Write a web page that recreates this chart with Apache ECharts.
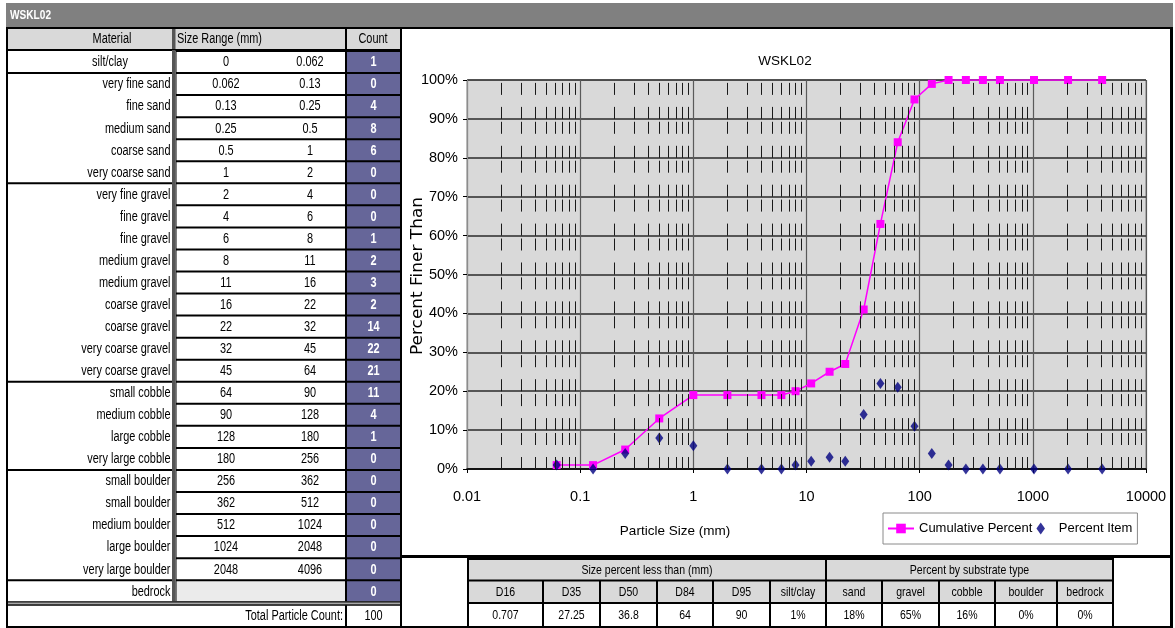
<!DOCTYPE html>
<html><head><meta charset="utf-8">
<script src="https://cdn.jsdelivr.net/npm/echarts@6/dist/echarts.min.js"></script>
<style>html,body{margin:0;padding:0;background:#fff;} #c{width:1175px;height:628px;}</style>
</head><body><div id="c"></div>
<script>
// ---------- data ----------
const sheetTitle = 'WSKL02';
const materials = ['silt/clay','very fine sand','fine sand','medium sand','coarse sand','very coarse sand',
  'very fine gravel','fine gravel','fine gravel','medium gravel','medium gravel','coarse gravel','coarse gravel',
  'very coarse gravel','very coarse gravel','small cobble','medium cobble','large cobble','very large cobble',
  'small boulder','small boulder','medium boulder','large boulder','very large boulder','bedrock'];
const sizeLow = ['0','0.062','0.13','0.25','0.5','1','2','4','6','8','11','16','22','32','45','64','90','128','180','256','362','512','1024','2048',''];
const sizeHigh = ['0.062','0.13','0.25','0.5','1','2','4','6','8','11','16','22','32','45','64','90','128','180','256','362','512','1024','2048','4096',''];
const counts = [1,0,4,8,6,0,0,0,1,2,3,2,14,22,21,11,4,1,0,0,0,0,0,0,0];
const totalLabel = 'Total Particle Count:';
const totalCount = '100';
const groupStartRows = [1,6,15,19,24];

const particleSizes = [0.062,0.13,0.25,0.5,1,2,4,6,8,11,16,22,32,45,64,90,128,180,256,362,512,1024,2048,4096];
const cumulativePercent = [1,1,5,13,19,19,19,19,20,22,25,27,41,63,84,95,99,100,100,100,100,100,100,100];
const percentItem = [1,0,4,8,6,0,0,0,1,2,3,2,14,22,21,11,4,1,0,0,0,0,0,0];
const xTickLabels = ['0.01','0.1','1','10','100','1000','10000'];
const minorMultipliers = [2,3,4,5,6,7,8,9];
const decades = [0.01,0.1,1,10,100,1000];

const statGroups = ['Size percent less than (mm)','Percent by substrate type'];
const statHeaders = ['D16','D35','D50','D84','D95','silt/clay','sand','gravel','cobble','boulder','bedrock'];
const statValues = ['0.707','27.25','36.8','64','90','1%','18%','65%','16%','0%','0%'];

// ---------- layout ----------
const SANS = '"Liberation Sans",Arial,sans-serif';
const NARROW_SCALE = 0.78;
const G = [];
function rect(x,y,w,h,fill){ G.push({type:'rect',silent:true,z:1,shape:{x:x,y:y,width:w,height:h},style:{fill:fill}}); }
function txt(x,y,s,o,sx){ G.push({type:'text',silent:true,z:2,x:x,y:y,scaleX:(sx==null?NARROW_SCALE:sx),style:Object.assign({text:s,fill:'#000',fontSize:14,fontFamily:SANS,align:'center',verticalAlign:'middle'},o||{})}); }

// title bar
rect(6,3,1167,24,'#808080');
txt(10,15.5,sheetTitle,{align:'left',fill:'#fff',fontWeight:'bold',fontSize:12.5},0.81);
rect(6,27,1167,2,'#000');
rect(6,27,2,601,'#000');
// header
rect(8,29,392,20,'#d9d9d9');
rect(172,29,3.5,20,'#555');
rect(345,29,2,20,'#000');
txt(112,39.5,'Material');
txt(177,39.5,'Size Range (mm)',{align:'left'});
txt(373,39.5,'Count');
rect(8,49,394,2,'#000');
// rows
const P = 22.05, R0 = 50;
const rowTop = i => R0 + i*P;
rect(175.5,R0,171.5,25*P,'#000');
rect(345,R0,57,25*P,'#000');
rect(172,R0,3.5,25*P,'#555');
rect(8,rowTop(1)+0.5,164,1.5,'#000');
groupStartRows.forEach(g=>rect(8,rowTop(g),164,2,'#000'));
materials.forEach((m,i)=>{
  const t = rowTop(i)+2, h = P-2, cy = t + h/2 + 0.5;
  rect(176.5,t,168.5,h, i===materials.length-1 ? '#ebebeb' : '#fff');
  rect(347,t,53,h,'#666699');
  if(i===0) txt(110,cy,m); else txt(170.5,cy,m,{align:'right'});
  txt(226,cy,sizeLow[i]);
  txt(310,cy,sizeHigh[i]);
  txt(373.5,cy,String(counts[i]),{fill:'#fff',fontWeight:'bold'});
});
const endY = rowTop(25);
rect(8,endY,394,1.5,'#000');
rect(8,endY+1.5,394,1.5,'#a8a8a8');
rect(8,endY+3,394,1.5,'#000');
rect(345,endY+4,2,22,'#000');
txt(343,616.5,totalLabel,{align:'right'});
txt(373.5,616.5,totalCount);
rect(6,626,1167,2,'#000');
// chart box
rect(400,27,2,531,'#000');
rect(1170,27,3,601,'#000');
rect(400,555,773,3,'#000');
rect(400,558,2,70,'#000');
// bottom stats table
const colEdges = [468,543,600,657,713,770,826,882,939,995,1057,1113];
rect(467,558,647,68,'#000');
rect(469,560,colEdges[6]-1-469,19.5,'#d9d9d9');
rect(colEdges[6]+1,560,colEdges[11]-1-colEdges[6]-1,19.5,'#d9d9d9');
txt((colEdges[0]+colEdges[6])/2,570.5,statGroups[0],{fontSize:13.5});
txt((colEdges[6]+colEdges[11])/2,570.5,statGroups[1],{fontSize:13.5});
statHeaders.forEach((h,i)=>{
  const x0 = colEdges[i]+1, x1 = colEdges[i+1]-1, cx=(colEdges[i]+colEdges[i+1])/2;
  rect(x0,581.5,x1-x0,20.5,'#d9d9d9');
  rect(x0,604,x1-x0,22,'#fff');
  txt(cx,592.5,h,{fontSize:13.5});
  txt(cx,615.5,statValues[i],{fontSize:13.5});
});
// chart texts
txt(785,61,sheetTitle,{fontSize:13.5},1);
txt(675,531,'Particle Size (mm)',{fontSize:13.5},1);
G.push({type:'text',silent:true,z:2,x:418,y:276,rotation:Math.PI/2,scaleX:1.13,style:{text:'Percent Finer Than',fill:'#000',fontSize:15,fontFamily:'"DejaVu Sans",sans-serif',align:'center',verticalAlign:'middle'}});

// minor grid positions (decoration)
const minorXs = [];
decades.forEach(d=>minorMultipliers.forEach(m=>minorXs.push(+(d*m).toPrecision(6))));

const chart = echarts.init(document.getElementById('c'),null,{renderer:'canvas'});
chart.setOption({
  animation:false,
  backgroundColor:'#fff',
  graphic:G,
  grid:{left:467,top:80,width:679,height:389,show:true,backgroundColor:'#d9d9d9',borderColor:'#8c8c8c',borderWidth:1,containLabel:false},
  xAxis:{type:'log',logBase:10,min:0.01,max:10000,splitNumber:6,
    axisLine:{show:true,onZero:false,lineStyle:{color:'#000',width:1.5}},
    axisTick:{show:true,length:4,lineStyle:{color:'#000'}},
    axisLabel:{margin:20,color:'#000',fontSize:14.5,fontFamily:SANS,
      formatter:v=>xTickLabels[Math.round(Math.log10(v))+2]},
    splitLine:{show:true,lineStyle:{color:'#5a5a5a',width:1.2}}},
  yAxis:{type:'value',min:0,max:100,interval:10,
    axisLine:{show:true,lineStyle:{color:'#8c8c8c'}},
    axisTick:{show:true,length:4,lineStyle:{color:'#000'}},
    axisLabel:{margin:9,color:'#000',fontSize:14.5,fontFamily:SANS,formatter:'{value}%'},
    splitLine:{show:true,lineStyle:{color:'#2a2a2a',width:1.5}}},
  legend:{left:883,top:513,orient:'horizontal',backgroundColor:'#fff',borderColor:'#8a8a8a',borderWidth:1,
    padding:[9,5,9,4],itemGap:4,itemWidth:26,itemHeight:12,
    textStyle:{color:'#000',fontSize:13,fontFamily:SANS},
    data:[{name:'Cumulative Percent'},{name:'Percent Item',icon:'path://M0,-14L10,0L0,14L-10,0Z'}]},
  series:[
    {type:'line',name:'grid-minor',data:[],z:1,silent:true,
      markLine:{silent:true,symbol:['none','none'],label:{show:false},animation:false,
        lineStyle:{color:'#1a1a1a',width:1,type:[12,12,12,2.9]},
        data:minorXs.map(v=>({xAxis:v}))}},
    {type:'line',name:'Cumulative Percent',z:3,
      data:particleSizes.map((x,i)=>[x,cumulativePercent[i]]),
      symbol:'rect',symbolSize:8,showAllSymbol:true,
      lineStyle:{color:'#ff00ff',width:1.5},itemStyle:{color:'#ff00ff'}},
    {type:'scatter',name:'Percent Item',z:4,
      data:particleSizes.map((x,i)=>[x,percentItem[i]]),
      symbol:'diamond',symbolSize:[8,11],itemStyle:{color:'#000080'}}
  ]
});
</script></body></html>
